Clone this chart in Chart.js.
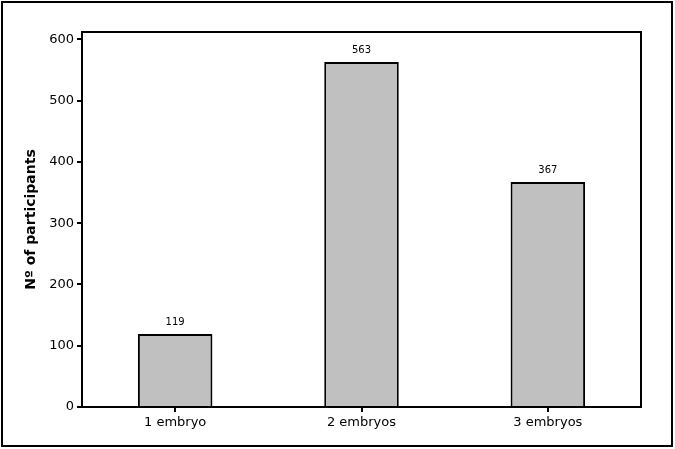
<!DOCTYPE html>
<html><head><meta charset="utf-8">
<script src="https://cdn.jsdelivr.net/npm/chart.js@4/dist/chart.umd.min.js"></script>
<style>html,body{margin:0;padding:0;background:#fff}#wrap{width:675px;height:449px}</style>
</head><body><div id="wrap"><canvas id="c"></canvas></div>
<script>
const categories = ["1 embryo", "2 embryos", "3 embryos"];
const counts = [119, 563, 367];
const yTicks = [0, 100, 200, 300, 400, 500, 600];
const yTitle = "Nº of participants";

const FONT = "DejaVu Sans";

const extras = {
  id: 'extras',
  afterDraw(chart) {
    const ctx = chart.ctx, a = chart.chartArea;
    ctx.save();
    ctx.strokeStyle = '#000';
    ctx.lineWidth = 2;
    ctx.strokeRect(2, 2, 670, 444);
    ctx.lineWidth = 2;
    ctx.strokeRect(a.left, a.top, a.right - a.left, a.bottom - a.top);
    const meta = chart.getDatasetMeta(0);
    ctx.fillStyle = '#000';
    ctx.font = '10px "' + FONT + '"';
    ctx.textAlign = 'center';
    ctx.textBaseline = 'bottom';
    meta.data.forEach((bar, i) => {
      ctx.fillText(String(counts[i]), bar.x, bar.y - 7);
    });
    ctx.restore();
  }
};

new Chart(document.getElementById('c'), {
  type: 'bar',
  data: {
    labels: categories,
    datasets: [{
      data: counts,
      backgroundColor: '#c0c0c0',
      borderColor: '#000',
      borderWidth: 2,
      barPercentage: 0.4,
      categoryPercentage: 1.0
    }]
  },
  options: {
    responsive: true,
    maintainAspectRatio: false,
    animation: false,
    devicePixelRatio: 1,
    layout: { padding: { left: 0, top: 32, right: 34, bottom: 0 } },
    plugins: { legend: { display: false }, tooltip: { enabled: false } },
    scales: {
      x: {
        offset: true,
        grid: { display: true, offset: false, drawOnChartArea: false, drawTicks: true, tickLength: 5, color: '#000', lineWidth: 2 },
        border: { display: true, color: '#000', width: 2 },
        ticks: { color: '#000', font: { family: FONT, size: 13 }, padding: 3, maxRotation: 0 },
        afterFit(s) { s.height = 42; }
      },
      y: {
        min: 0, max: 612,
        afterBuildTicks(s) { s.ticks = yTicks.map(v => ({ value: v })); },
        grid: { display: true, drawOnChartArea: false, drawTicks: true, tickLength: 5, color: '#000', lineWidth: 2 },
        border: { display: true, color: '#000', width: 2 },
        ticks: { color: '#000', font: { family: FONT, size: 13 }, padding: 3 },
        title: { display: true, text: yTitle, color: '#000', font: { family: FONT, size: 14, weight: 'bold' }, padding: { top: 23, bottom: 0 } },
        afterFit(s) { s.width = 82; }
      }
    }
  },
  plugins: [extras]
});
</script></body></html>
